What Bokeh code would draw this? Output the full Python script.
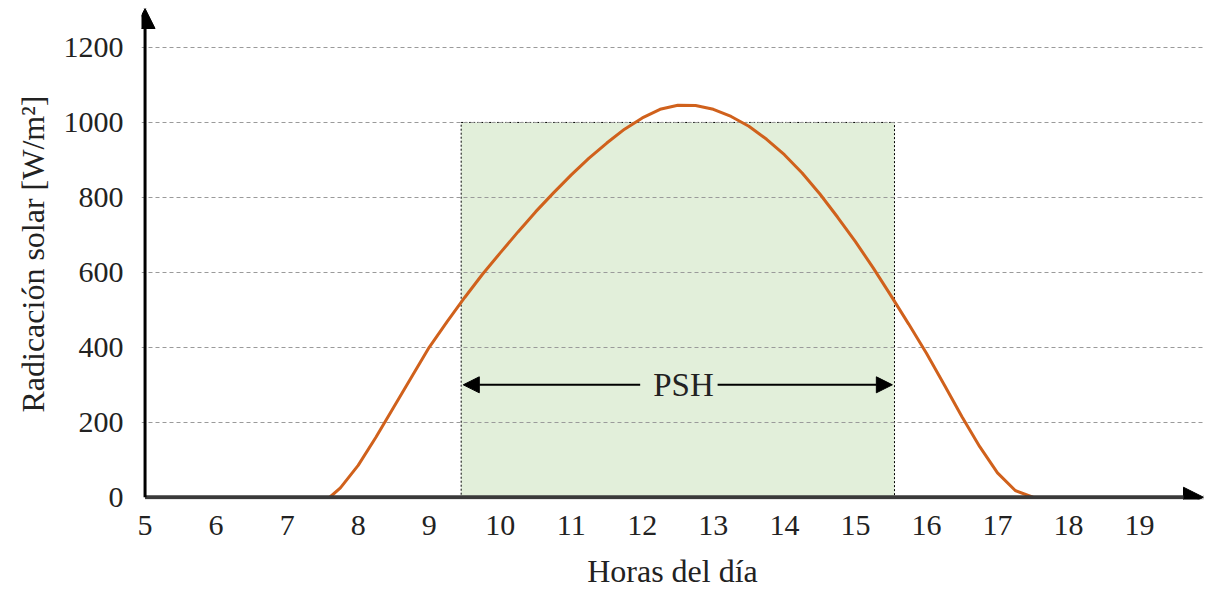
from bokeh.plotting import figure
from bokeh.models import Range1d, FixedTicker, Arrow, NormalHead, Label
from bokeh.embed import file_html
from bokeh.resources import INLINE

# ---- data ----
hours = [7.6, 7.75, 8.0, 8.25, 8.5, 8.75, 9.0, 9.25, 9.5, 9.75, 10.0, 10.25, 10.5,
         10.75, 11.0, 11.25, 11.5, 11.75, 12.0, 12.25, 12.5, 12.75, 13.0, 13.25,
         13.5, 13.75, 14.0, 14.25, 14.5, 14.75, 15.0, 15.25, 15.5, 15.75, 16.0,
         16.25, 16.5, 16.75, 17.0, 17.25, 17.5]
radiation = [0, 25, 85, 160, 240, 320, 400, 468, 533, 595, 652, 708, 762,
             812, 860, 905, 945, 982, 1012, 1035, 1046, 1045, 1035, 1016,
             990, 955, 914, 865, 809, 747, 682, 612, 538, 462, 384,
             300, 215, 135, 65, 18, 0]
psh_start = 9.45
psh_end = 15.55
psh_level = 1000
x_ticks = list(range(5, 20))
y_ticks = [0, 200, 400, 600, 800, 1000, 1200]
grid_values = [200, 400, 600, 800, 1000, 1200]
x_label = "Horas del día"
y_label = "Radicación solar [W/m²]"
psh_label = "PSH"

FONT = "Liberation Serif"

p = figure(width=1211, height=591, output_backend="svg", toolbar_location=None,
           x_range=Range1d(4.95, 19.9), y_range=Range1d(-6, 1304),
           min_border_left=141, min_border_right=8, min_border_top=8,
           min_border_bottom=92)
p.outline_line_color = None
p.background_fill_color = "white"
p.border_fill_color = "white"

# axes
p.xaxis.ticker = FixedTicker(ticks=x_ticks)
p.yaxis.ticker = FixedTicker(ticks=y_ticks)
for ax in (p.xaxis[0], p.yaxis[0]):
    ax.axis_line_color = None
    ax.major_tick_line_color = None
    ax.minor_tick_line_color = None
    ax.major_label_text_font = FONT
    ax.major_label_text_font_size = "30px"
    ax.major_label_text_color = "#222222"
    ax.axis_label_text_font = FONT
    ax.axis_label_text_font_size = "32px"
    ax.axis_label_text_font_style = "normal"
    ax.axis_label_text_color = "#222222"
p.xaxis.axis_label = x_label
p.yaxis.axis_label = y_label
p.xaxis.major_label_standoff = 10
p.xaxis.axis_label_standoff = 15
p.yaxis.major_label_standoff = 12
p.yaxis.axis_label_standoff = 10

# grid
p.xgrid.grid_line_color = None
p.ygrid.ticker = FixedTicker(ticks=grid_values)
p.ygrid.grid_line_color = "#9a9a9a"
p.ygrid.grid_line_dash = "4 3"
p.ygrid.grid_line_width = 1

# PSH rectangle
r = p.quad(left=[psh_start], right=[psh_end], bottom=[0], top=[psh_level],
           fill_color="#E2EFDA", line_color="black", line_dash="2 2", line_width=1)
r.level = "image"

# curve
p.line(hours, radiation, line_color="#D0611C", line_width=3)

# axes lines with arrows
p.add_layout(Arrow(x_start=5, y_start=0, x_end=19.9, y_end=0, line_width=4,
                   line_color="#3a3a3a",
                   end=NormalHead(size=20, fill_color="black", line_color="black")))
p.add_layout(Arrow(x_start=5, y_start=0, x_end=5, y_end=1304, line_width=3,
                   line_color="black",
                   end=NormalHead(size=20, fill_color="black", line_color="black")))

# PSH arrows and label
psh_y = 300
mid = (psh_start + psh_end) / 2
p.add_layout(Arrow(x_start=mid - 0.53, y_start=psh_y, x_end=psh_start + 0.03, y_end=psh_y,
                   line_width=2, line_color="black",
                   end=NormalHead(size=16, fill_color="black", line_color="black")))
p.add_layout(Arrow(x_start=mid + 0.56, y_start=psh_y, x_end=psh_end - 0.03, y_end=psh_y,
                   line_width=2, line_color="black",
                   end=NormalHead(size=16, fill_color="black", line_color="black")))
p.add_layout(Label(x=mid + 0.08, y=psh_y, text=psh_label, text_font=FONT,
                   text_font_size="33px", text_align="center",
                   text_baseline="middle", text_color="#222222"))

open("out.html", "w").write(file_html(p, INLINE))
